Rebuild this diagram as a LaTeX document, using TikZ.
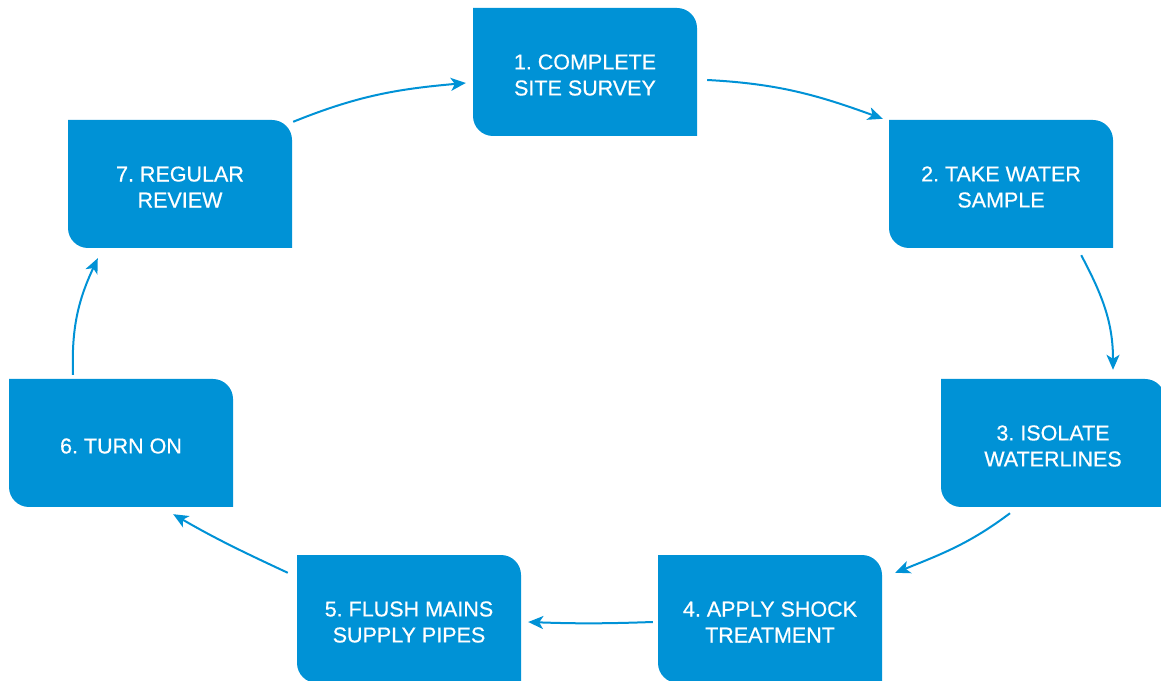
\documentclass[tikz,border=0pt]{standalone}
\usepackage{fontspec}
\setmainfont{Liberation Sans}
\newfontfamily\medfont[FakeBold=0.5]{Liberation Sans}
\usetikzlibrary{arrows.meta,calc}
\definecolor{boxblue}{RGB}{0,146,214}
\frenchspacing
\tikzset{
  steptext/.style={text=white, align=center, font=\medfont\frenchspacing\fontsize{21.5}{26}\selectfont, inner sep=0pt},
  flow/.style={draw=boxblue, line width=2pt, -{Stealth[length=15pt,width=13pt,inset=4pt]}},
}
\newcommand{\stepbox}[4]{%
  \fill[boxblue] ($(#2,#3)+(-112,64)$) -- ($(#2,#3)+(92,64)$)
    arc[start angle=90,end angle=0,radius=20pt] -- ($(#2,#3)+(112,-64)$)
    -- ($(#2,#3)+(-92,-64)$) arc[start angle=270,end angle=180,radius=20pt] -- cycle;
  \node[minimum width=224pt, minimum height=128pt, inner sep=0pt] (#1) at (#2,#3) {};
  \node[steptext] at ($(#2,#3)+(0,-3)$) {#4};
}
\begin{document}
\begin{tikzpicture}[x=1pt,y=1pt]
\useasboundingbox (0,0) rectangle (1161,680);
\clip (0,0) rectangle (1161,680);
\stepbox{b1}{585}{608}{1. COMPLETE\\SITE SURVEY}
\stepbox{b2}{1001}{496}{2. TAKE WATER\\SAMPLE}
\stepbox{b3}{1053}{237}{3. ISOLATE\\WATERLINES}
\stepbox{b4}{770}{61}{4. APPLY SHOCK\\TREATMENT}
\stepbox{b5}{409}{61}{5. FLUSH MAINS\\SUPPLY PIPES}
\stepbox{b6}{121}{237}{6. TURN ON}
\stepbox{b7}{180}{496}{7. REGULAR\\REVIEW}
\draw[flow] ($(b1.east)+(10,-8)$) to[out=-3,in=160] ($(b2.north west)+(-6,1)$);
\draw[flow] ($(b2.south east)+(-32,-7)$) to[out=-62,in=90] ($(b3.north)+(60,9)$);
\draw[flow] ($(b3.south)+(-43,-6)$) to[out=-143,in=22] ($(b4.north east)+(13,-18)$);
\draw[flow] ($(b4.west)+(-5,-3)$) to[out=182,in=-2] ($(b5.east)+(7,-3)$);
\draw[flow] ($(b5.north west)+(-9,-18)$) to[out=155,in=-30] ($(b6.south east)+(-60,-7)$);
\draw[flow] ($(b6.north)+(-48,4)$) to[out=92,in=-115] ($(b7.south west)+(30,-10)$);
\draw[flow] ($(b7.north east)+(1,-2)$) to[out=22,in=-175] ($(b1.west)+(-7,-11)$);
\end{tikzpicture}
\end{document}
